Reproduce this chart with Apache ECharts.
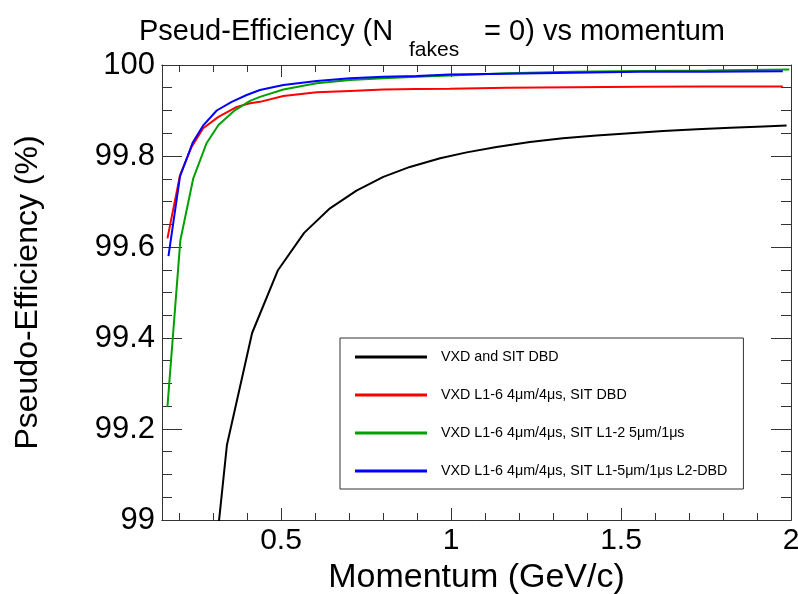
<!DOCTYPE html>
<html>
<head>
<meta charset="utf-8">
<script src="https://cdn.jsdelivr.net/npm/echarts@6/dist/echarts.min.js"></script>
<style>
html,body{margin:0;padding:0;background:#fff;}
#chart{width:798px;height:594px;}
</style>
</head>
<body>
<div id="chart"></div>
<script>
// ---- data ----
const seriesNames = [
  'VXD and SIT DBD',
  'VXD L1-6 4\u03bcm/4\u03bcs, SIT DBD',
  'VXD L1-6 4\u03bcm/4\u03bcs, SIT L1-2 5\u03bcm/1\u03bcs',
  'VXD L1-6 4\u03bcm/4\u03bcs, SIT L1-5\u03bcm/1\u03bcs L2-DBD'
];

const momBlack = [0.29, 0.341, 0.415, 0.491, 0.568, 0.644, 0.722, 0.801, 0.879, 0.968, 1.046, 1.134, 1.232, 1.329, 1.428, 1.526, 1.624, 1.723, 1.822, 1.919, 1.987];
const effBlack = [98.80, 99.165, 99.411, 99.549, 99.631, 99.685, 99.724, 99.754, 99.776, 99.795, 99.808, 99.820, 99.831, 99.839, 99.845, 99.850, 99.855, 99.859, 99.862, 99.865, 99.867];

const momRed = [0.166, 0.203, 0.237, 0.271, 0.316, 0.370, 0.409, 0.438, 0.507, 0.605, 0.703, 0.801, 0.899, 0.997, 1.164, 1.359, 1.556, 1.752, 1.976];
const effRed = [99.619, 99.758, 99.820, 99.861, 99.886, 99.908, 99.916, 99.919, 99.932, 99.940, 99.943, 99.946, 99.947, 99.948, 99.950, 99.951, 99.952, 99.953, 99.953];

const momGreen = [0.166, 0.204, 0.242, 0.281, 0.316, 0.365, 0.409, 0.438, 0.507, 0.605, 0.703, 0.801, 0.899, 0.997, 1.164, 1.359, 1.556, 1.752, 1.995];
const effGreen = [99.249, 99.615, 99.751, 99.828, 99.868, 99.901, 99.921, 99.930, 99.946, 99.960, 99.967, 99.971, 99.974, 99.977, 99.982, 99.985, 99.987, 99.988, 99.990];

const momBlue = [0.169, 0.203, 0.240, 0.272, 0.311, 0.355, 0.399, 0.438, 0.507, 0.605, 0.703, 0.801, 0.899, 0.997, 1.164, 1.359, 1.556, 1.752, 1.976];
const effBlue = [99.580, 99.755, 99.829, 99.868, 99.900, 99.919, 99.934, 99.945, 99.956, 99.965, 99.971, 99.974, 99.976, 99.979, 99.981, 99.983, 99.985, 99.985, 99.986];

const xMajorTicks = [0.5, 1, 1.5, 2];
const xMinorTicks = [0.2, 0.3, 0.4, 0.6, 0.7, 0.8, 0.9, 1.1, 1.2, 1.3, 1.4, 1.6, 1.7, 1.8, 1.9];
const xMin = 0.15, xMax = 2;
const yMin = 99, yMax = 100, yStep = 0.2;

const colors = ['#000000', '#ff0000', '#00a000', '#0000ff'];

// ---- build ----
const zip = (a, b) => a.map((v, i) => [v, b[i]]);
const allData = [zip(momBlack, effBlack), zip(momRed, effRed), zip(momGreen, effGreen), zip(momBlue, effBlue)];

const FONT = 'Liberation Sans';
const axisCol = '#333';

function xAxisDef(pos, ticks, len, showLabel, extra) {
  return Object.assign({
    type: 'value', position: pos, min: xMin, max: xMax,
    axisLine: {show: true, onZero: false, lineStyle: {color: axisCol, width: 1}},
    axisTick: {show: true, inside: true, length: len, customValues: ticks, lineStyle: {color: axisCol, width: 1}},
    axisLabel: {show: showLabel, customValues: ticks, fontFamily: FONT, fontSize: 30, color: '#000', margin: 6,
      formatter: v => String(v)},
    splitLine: {show: false}
  }, extra || {});
}

function yAxisDef(pos, showLabel, extra) {
  return Object.assign({
    type: 'value', position: pos, min: yMin, max: yMax, interval: yStep,
    axisLine: {show: true, onZero: false, lineStyle: {color: axisCol, width: 1}},
    axisTick: {show: true, inside: true, length: 20, lineStyle: {color: axisCol, width: 1}},
    minorTick: {show: true, splitNumber: 4, length: 10, lineStyle: {color: axisCol, width: 1}},
    axisLabel: {show: showLabel, fontFamily: FONT, fontSize: 31, color: '#000', margin: 7,
      formatter: v => String(Number(v.toFixed(1)))},
    splitLine: {show: false}, minorSplitLine: {show: false}
  }, extra || {});
}

const chart = echarts.init(document.getElementById('chart'), null, {renderer: 'canvas'});
chart.setOption({
  animation: false,
  backgroundColor: '#fff',
  grid: {left: 162, right: 7, top: 65, bottom: 74, containLabel: false, outerBoundsMode: 'none'},
  xAxis: [
    xAxisDef('bottom', xMajorTicks, 12, true, {
      name: 'Momentum (GeV/c)', nameLocation: 'middle', nameGap: 35,
      nameTextStyle: {fontFamily: FONT, fontSize: 34, color: '#000'}
    }),
    xAxisDef('bottom', xMinorTicks, 7, false),
    xAxisDef('top', xMajorTicks, 12, false),
    xAxisDef('top', xMinorTicks, 7, false)
  ],
  yAxis: [
    yAxisDef('left', true, {
      name: 'Pseudo-Efficiency (%)', nameLocation: 'middle', nameGap: 118,
      nameTextStyle: {fontFamily: FONT, fontSize: 32, color: '#000'}
    }),
    yAxisDef('right', false)
  ],
  legend: {
    show: true, orient: 'vertical', left: 340, top: 338,
    data: seriesNames, selectedMode: false,
    icon: 'rect', itemWidth: 72, itemHeight: 3, itemGap: 22,
    padding: [11, 16, 10, 15],
    borderColor: '#333', borderWidth: 1, backgroundColor: '#fff',
    textStyle: {fontFamily: FONT, fontSize: 14.3, color: '#000', lineHeight: 16, padding: [0, 0, 0, 9]}
  },
  graphic: [
    {type: 'text', left: 139, top: 17, style: {text: 'Pseud-Efficiency (N', fontFamily: FONT, fontSize: 29, fill: '#000'}},
    {type: 'text', left: 409, top: 40, style: {text: 'fakes', fontFamily: FONT, fontSize: 21, fill: '#000'}},
    {type: 'text', right: 73, top: 17, style: {text: '= 0) vs momentum', fontFamily: FONT, fontSize: 29, fill: '#000'}}
  ],
  series: allData.map((d, i) => ({
    name: seriesNames[i], type: 'line', data: d, xAxisIndex: 0, yAxisIndex: 0,
    showSymbol: false, symbol: 'none', clip: true,
    lineStyle: {color: colors[i], width: 2}, itemStyle: {color: colors[i]},
    z: 3 + i
  }))
});
</script>
</body>
</html>
